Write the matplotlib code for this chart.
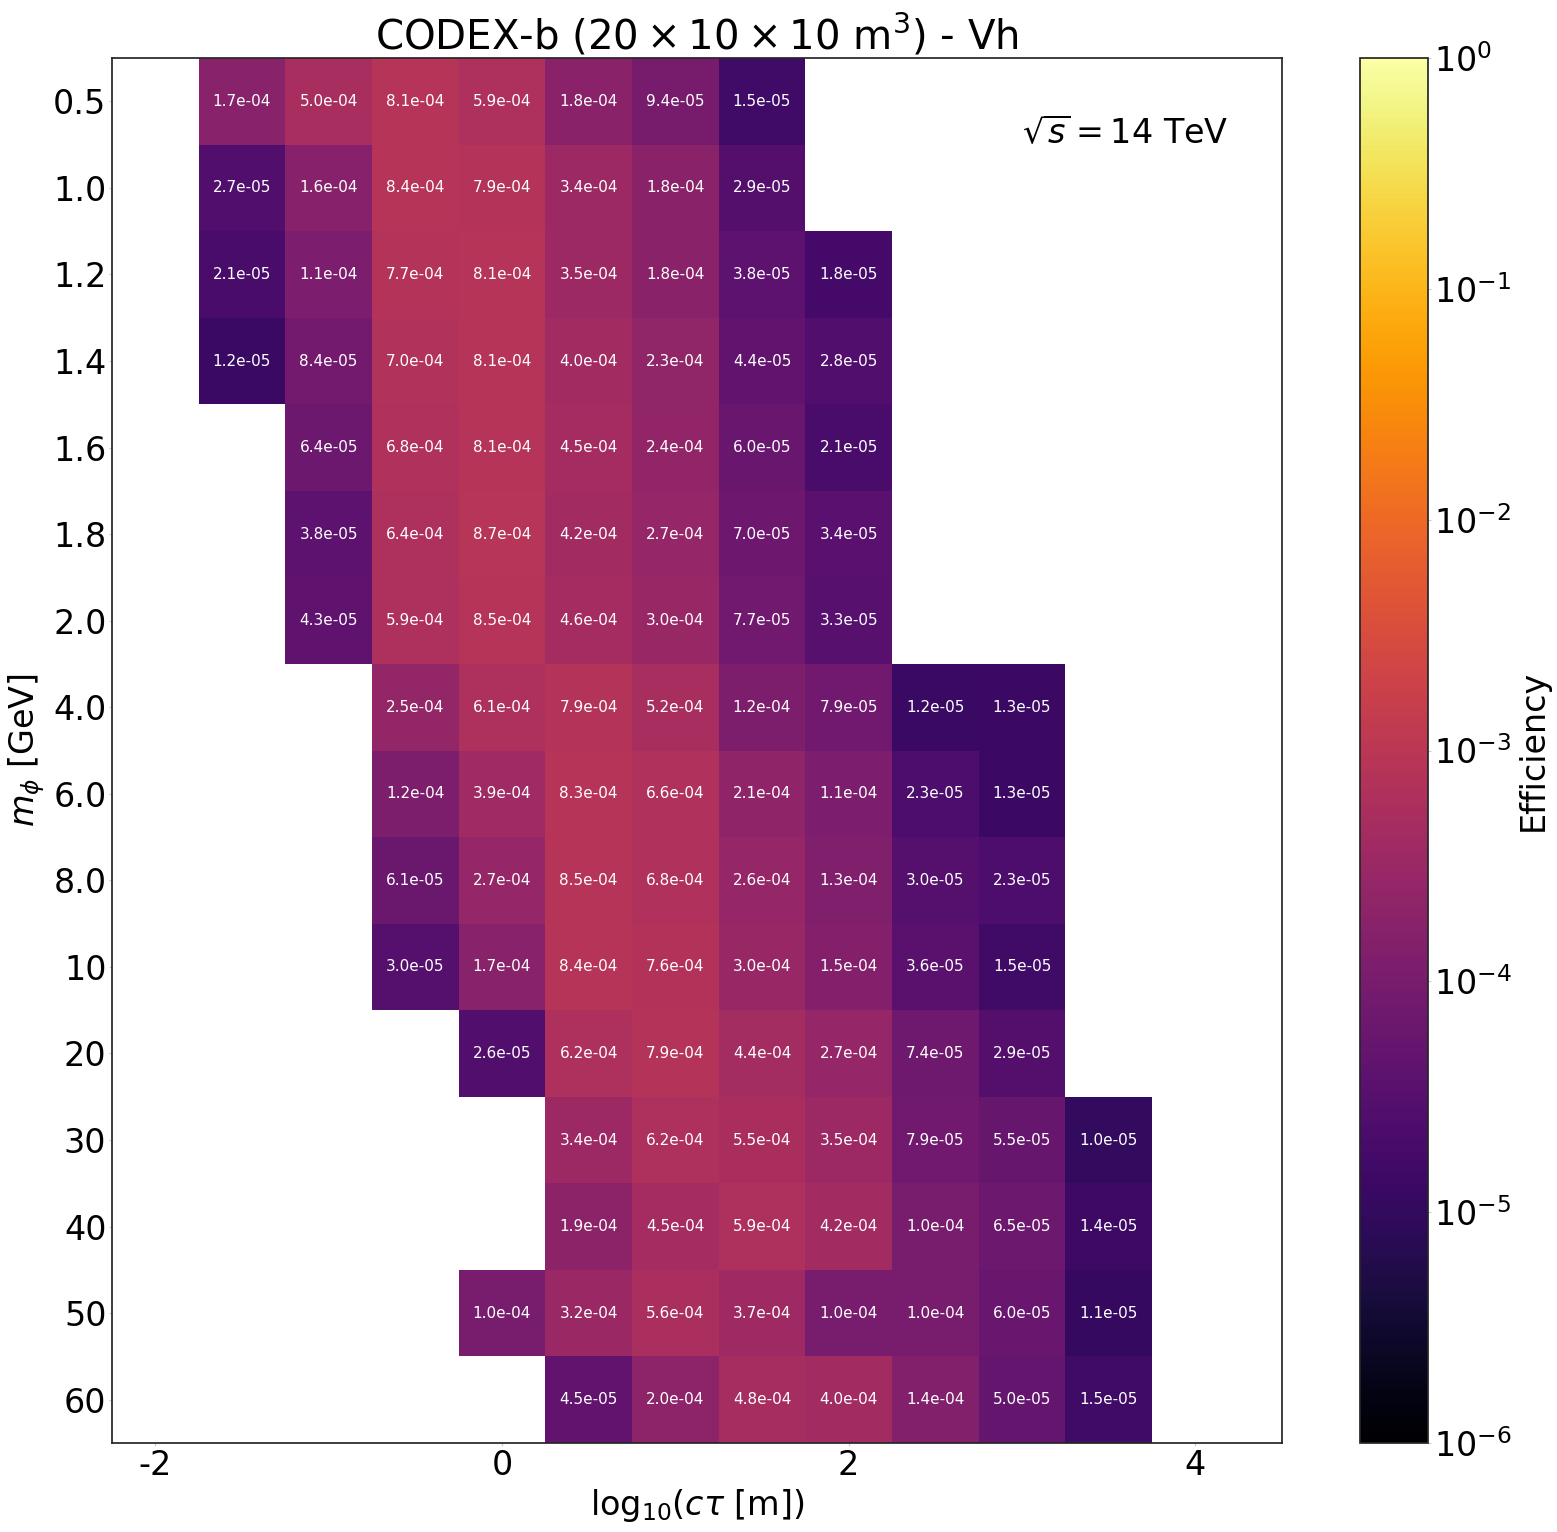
import numpy as np
import matplotlib
matplotlib.use("Agg")
import matplotlib.pyplot as plt
from matplotlib.colors import LogNorm

# log10(c tau [m]) bin centres, one per column
log_ctau = [-1.5, -1.0, -0.5, 0.0, 0.5, 1.0, 1.5, 2.0, 2.5, 3.0, 3.5]

# mass rows (top to bottom)
mass_labels = ["0.5", "1.0", "1.2", "1.4", "1.6", "1.8", "2.0", "4.0",
               "6.0", "8.0", "10", "20", "30", "40", "50", "60"]

# index of the first filled column in each row
row_start = [0, 0, 0, 0, 1, 1, 1, 2, 2, 2, 2, 3, 4, 4, 3, 4]

# efficiencies, row by row, starting at row_start
row_values = [
    [1.7e-04, 5.0e-04, 8.1e-04, 5.9e-04, 1.8e-04, 9.4e-05, 1.5e-05],
    [2.7e-05, 1.6e-04, 8.4e-04, 7.9e-04, 3.4e-04, 1.8e-04, 2.9e-05],
    [2.1e-05, 1.1e-04, 7.7e-04, 8.1e-04, 3.5e-04, 1.8e-04, 3.8e-05, 1.8e-05],
    [1.2e-05, 8.4e-05, 7.0e-04, 8.1e-04, 4.0e-04, 2.3e-04, 4.4e-05, 2.8e-05],
    [6.4e-05, 6.8e-04, 8.1e-04, 4.5e-04, 2.4e-04, 6.0e-05, 2.1e-05],
    [3.8e-05, 6.4e-04, 8.7e-04, 4.2e-04, 2.7e-04, 7.0e-05, 3.4e-05],
    [4.3e-05, 5.9e-04, 8.5e-04, 4.6e-04, 3.0e-04, 7.7e-05, 3.3e-05],
    [2.5e-04, 6.1e-04, 7.9e-04, 5.2e-04, 1.2e-04, 7.9e-05, 1.2e-05, 1.3e-05],
    [1.2e-04, 3.9e-04, 8.3e-04, 6.6e-04, 2.1e-04, 1.1e-04, 2.3e-05, 1.3e-05],
    [6.1e-05, 2.7e-04, 8.5e-04, 6.8e-04, 2.6e-04, 1.3e-04, 3.0e-05, 2.3e-05],
    [3.0e-05, 1.7e-04, 8.4e-04, 7.6e-04, 3.0e-04, 1.5e-04, 3.6e-05, 1.5e-05],
    [2.6e-05, 6.2e-04, 7.9e-04, 4.4e-04, 2.7e-04, 7.4e-05, 2.9e-05],
    [3.4e-04, 6.2e-04, 5.5e-04, 3.5e-04, 7.9e-05, 5.5e-05, 1.0e-05],
    [1.9e-04, 4.5e-04, 5.9e-04, 4.2e-04, 1.0e-04, 6.5e-05, 1.4e-05],
    [1.0e-04, 3.2e-04, 5.6e-04, 3.7e-04, 1.0e-04, 1.0e-04, 6.0e-05, 1.1e-05],
    [4.5e-05, 2.0e-04, 4.8e-04, 4.0e-04, 1.4e-04, 5.0e-05, 1.5e-05],
]

# build the grid
eff = np.full((len(mass_labels), len(log_ctau)), np.nan)
for i, (start, vals) in enumerate(zip(row_start, row_values)):
    eff[i, start:start + len(vals)] = vals

x_edges = np.append(np.array(log_ctau) - 0.25, log_ctau[-1] + 0.25)
y_edges = np.arange(len(mass_labels) + 1) - 0.5

fig = plt.figure(figsize=(15.57, 15.32), dpi=100)
ax = fig.add_axes([0.0719, 0.0581, 0.7515, 0.904])
cax = fig.add_axes([0.8735, 0.0581, 0.0437, 0.904])

norm = LogNorm(vmin=1e-6, vmax=1)
mesh = ax.pcolormesh(x_edges, y_edges, np.ma.masked_invalid(eff),
                     cmap="inferno", norm=norm)

for i in range(eff.shape[0]):
    for j in range(eff.shape[1]):
        if not np.isnan(eff[i, j]):
            ax.text(log_ctau[j], i, f"{eff[i, j]:.1e}", ha="center", va="center",
                    color="white", fontsize=11)

ax.set_xlim(-2.25, 4.5)
ax.set_ylim(len(mass_labels) - 0.5, -0.5)
ax.set_xticks([-2, 0, 2, 4])
ax.set_xticklabels(["-2", "0", "2", "4"])
ax.set_yticks(np.arange(len(mass_labels)))
ax.set_yticklabels(mass_labels)
ax.tick_params(labelsize=24, length=2, pad=2, color="0.8")
for spine in ax.spines.values():
    spine.set_color("0.15")
    spine.set_linewidth(1.25)

ax.set_xlabel(r"log$_{10}$($c\tau$ [m])", fontsize=24)
ax.set_ylabel(r"$m_\phi$ [GeV]", fontsize=24)
ax.set_title(r"CODEX-b ($20\times10\times10$ m$^3$) - Vh", fontsize=29, pad=5)
ax.text(0.866, 0.946, r"$\sqrt{s} = 14$ TeV", transform=ax.transAxes,
        ha="center", va="center", fontsize=24)

cbar = fig.colorbar(mesh, cax=cax)
cbar.set_label("Efficiency", fontsize=24)
cbar.ax.tick_params(labelsize=24, which="both", length=2, pad=2, color="0.8")
cbar.ax.minorticks_off()
cbar.outline.set_edgecolor("0.15")
cbar.outline.set_linewidth(1.25)

plt.savefig("out.png")
